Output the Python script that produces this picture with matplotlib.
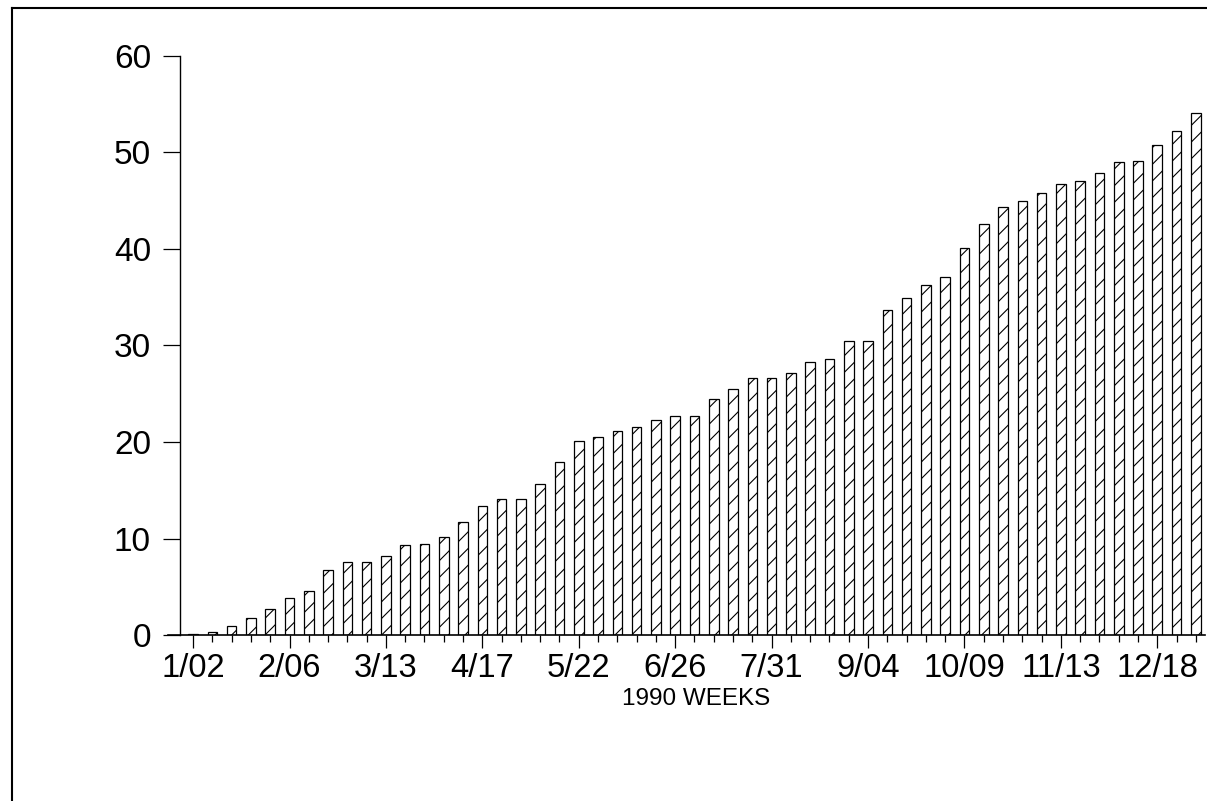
import matplotlib
matplotlib.use("Agg")
import matplotlib.pyplot as plt
from matplotlib.lines import Line2D
from matplotlib.ticker import FixedLocator, NullFormatter

plt.rcParams["font.family"] = ["Liberation Sans", "DejaVu Sans"]
plt.rcParams["hatch.linewidth"] = 0.8

# 週ごとの値 (1990年, 53週)
values = [
    0.1, 0.3, 1.0, 1.8, 2.7, 3.9, 4.6, 6.8, 7.6, 7.6,
    8.2, 9.3, 9.4, 10.2, 11.7, 13.4, 14.1, 14.1, 15.7, 17.9,
    20.1, 20.5, 21.1, 21.6, 22.3, 22.7, 22.7, 24.5, 25.5, 26.6,
    26.6, 27.1, 28.3, 28.6, 30.5, 30.5, 33.7, 34.9, 36.3, 37.1,
    40.1, 42.6, 44.3, 44.95, 45.8, 46.7, 47.05, 47.9, 49.0, 49.1,
    50.8, 52.2, 54.1,
]
major_labels = ["1/02", "2/06", "3/13", "4/17", "5/22", "6/26",
                "7/31", "9/04", "10/09", "11/13", "12/18"]
y_ticks = [0, 10, 20, 30, 40, 50, 60]

fig = plt.figure(figsize=(12.07, 8.01), dpi=100)
ax = fig.add_axes([0.1392, 0.2069, 0.8591, 0.7236])

x = list(range(len(values)))
ax.bar(x, values, width=0.5, facecolor="white", edgecolor="black",
       linewidth=0.9, hatch="//")

ax.set_xlim(-1.3, 52.47)
ax.set_ylim(0, 60)

ax.spines["top"].set_visible(False)
ax.spines["right"].set_visible(False)
ax.spines["left"].set_position(("data", -0.67))
ax.spines["left"].set_linewidth(1.0)
ax.spines["bottom"].set_linewidth(1.2)

ax.yaxis.set_major_locator(FixedLocator(y_ticks))
ax.set_yticklabels([str(v) for v in y_ticks])
ax.tick_params(axis="y", length=12, width=0.9, pad=9, labelsize=24)

major_pos = list(range(0, len(values), 5))
ax.xaxis.set_major_locator(FixedLocator(major_pos))
ax.set_xticklabels(major_labels)
ax.xaxis.set_minor_locator(FixedLocator(x))
ax.xaxis.set_minor_formatter(NullFormatter())
ax.tick_params(axis="x", which="major", length=9.5, width=0.9, pad=3, labelsize=23.5)
ax.tick_params(axis="x", which="minor", length=5, width=0.9)

fig.text(696 / 1207, 1 - 699 / 801, "1990 WEEKS", ha="center", va="center",
         fontsize=17.5)

# 外枠
fig.add_artist(Line2D([12 / 1207, 1.0], [1 - 8 / 801, 1 - 8 / 801],
                      transform=fig.transFigure, color="black", linewidth=1.5))
fig.add_artist(Line2D([12 / 1207, 12 / 1207], [0.0, 1 - 8 / 801],
                      transform=fig.transFigure, color="black", linewidth=1.5))

plt.savefig("out.png", dpi=100)
